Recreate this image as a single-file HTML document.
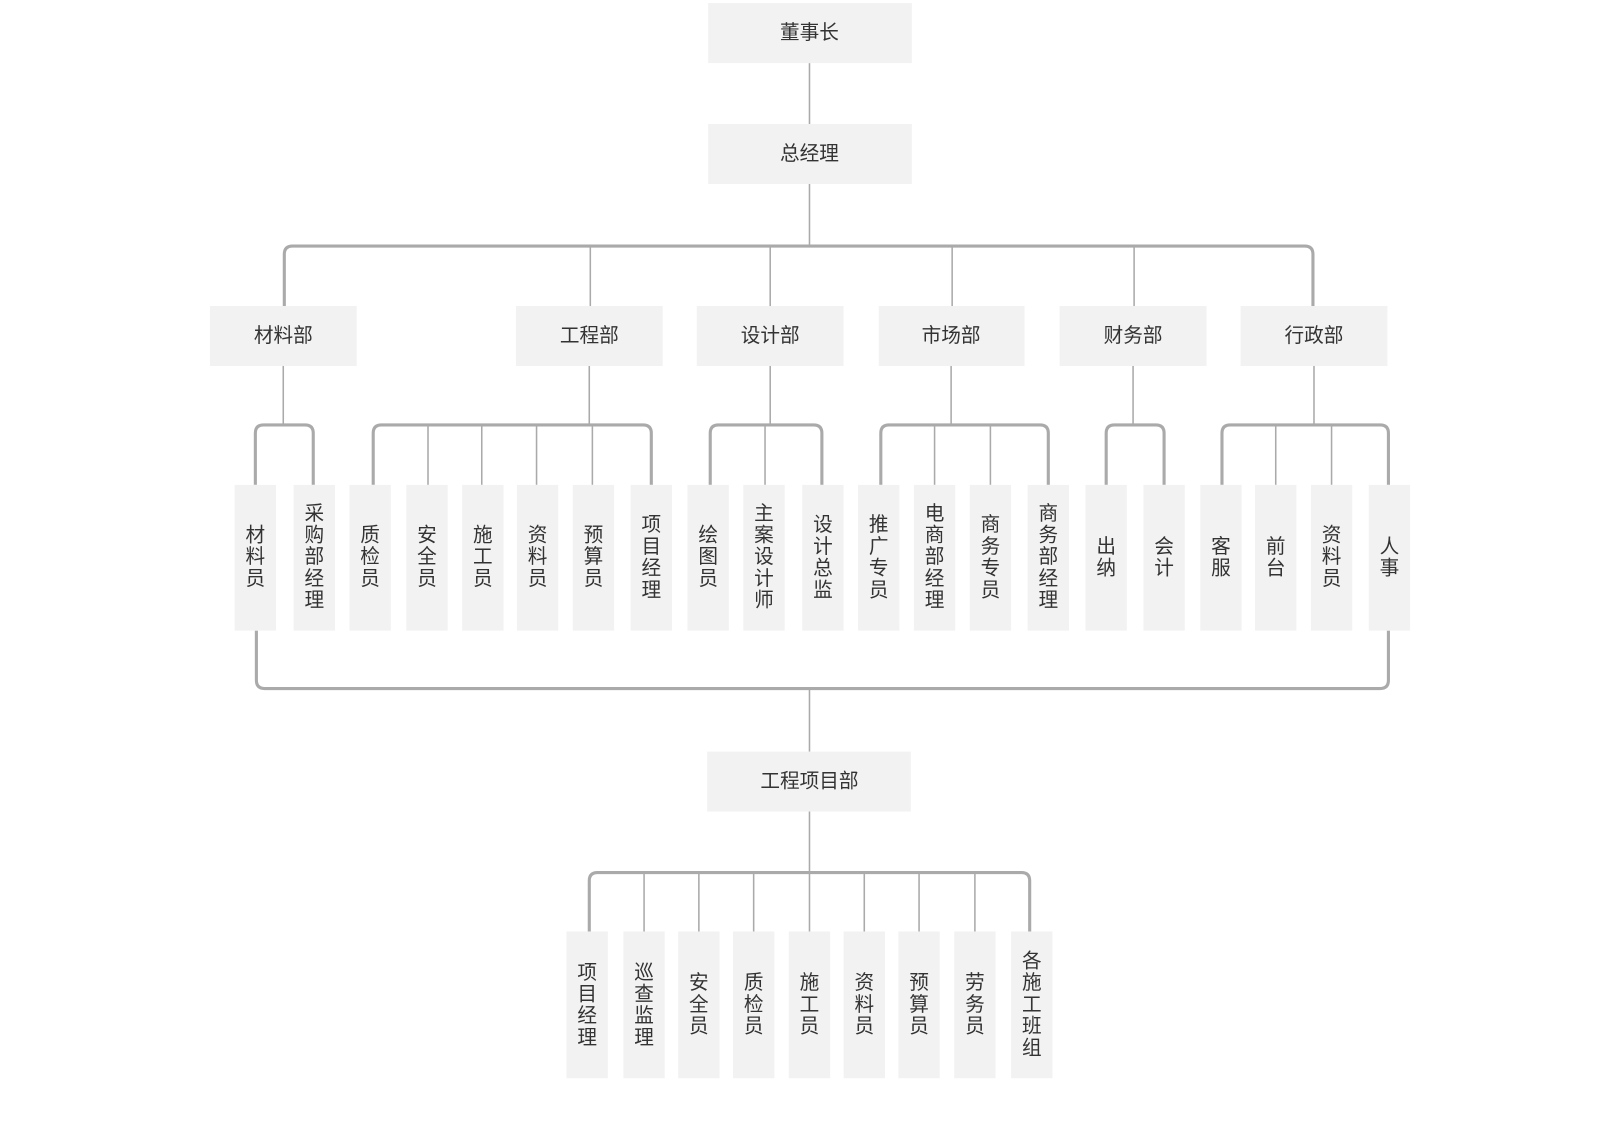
<!DOCTYPE html>
<html><head><meta charset="utf-8"><style>
html,body{margin:0;padding:0;background:#fff;width:1620px;height:1140px;overflow:hidden}
svg text{font-family:"Liberation Sans","Noto Sans CJK SC",sans-serif;fill:#333;font-size:19px;text-anchor:middle;dominant-baseline:central}
</style></head><body>
<svg width="1620" height="1140" viewBox="0 0 1567 1102.7" xmlns="http://www.w3.org/2000/svg">
<g fill="none" stroke="#aaa">
<g stroke-width="1.5">
<path d="M783 61V120M783 178V238M571 238V296M745 238V296M921 238V296M1097 238V296"/>
<path d="M274 354V411M570 354V411M745 354V411M920 354V411M1096 354V411M1271 354V411"/>
<path d="M414 411V469M466 411V469M519 411V469M573 411V469M740 411V469M904 411V469M958 411V469M1234 411V469M1288 411V469"/>
<path d="M783 666V727M783 785V844M623 844V901M676 844V901M729 844V901M783 844V901M836 844V901M889 844V901M943 844V901"/>
</g>
<g stroke-width="3">
<path d="M275 296V246Q275 238 283 238H1262Q1270 238 1270 246V296"/>
<path d="M247 469V419Q247 411 255 411H295Q303 411 303 419V469"/>
<path d="M361 469V419Q361 411 369 411H622Q630 411 630 419V469"/>
<path d="M687 469V419Q687 411 695 411H787Q795 411 795 419V469"/>
<path d="M852 469V419Q852 411 860 411H1006Q1014 411 1014 419V469"/>
<path d="M1070 469V419Q1070 411 1078 411H1118Q1126 411 1126 419V469"/>
<path d="M1182 469V419Q1182 411 1190 411H1335Q1343 411 1343 419V469"/>
<path d="M248 610V658Q248 666 256 666H1335Q1343 666 1343 658V610"/>
<path d="M570 901V852Q570 844 578 844H988Q996 844 996 852V901"/>
</g>
</g>
<g fill="#f2f2f2">
<rect x="685" y="3" width="197" height="58"/>
<rect x="685" y="120" width="197" height="58"/>
<rect x="203" y="296" width="142" height="58"/>
<rect x="499" y="296" width="142" height="58"/>
<rect x="674" y="296" width="142" height="58"/>
<rect x="850" y="296" width="141" height="58"/>
<rect x="1025" y="296" width="142" height="58"/>
<rect x="1200" y="296" width="142" height="58"/>
<rect x="684" y="727" width="197" height="58"/>
<g>
<rect x="227" y="469" width="40" height="141"/><rect x="284" y="469" width="40" height="141"/>
<rect x="338" y="469" width="40" height="141"/><rect x="393" y="469" width="40" height="141"/>
<rect x="447" y="469" width="40" height="141"/><rect x="500" y="469" width="40" height="141"/>
<rect x="554" y="469" width="40" height="141"/><rect x="610" y="469" width="40" height="141"/>
<rect x="665" y="469" width="40" height="141"/><rect x="719" y="469" width="40" height="141"/>
<rect x="776" y="469" width="40" height="141"/><rect x="830" y="469" width="40" height="141"/>
<rect x="884" y="469" width="40" height="141"/><rect x="938" y="469" width="40" height="141"/>
<rect x="994" y="469" width="40" height="141"/><rect x="1050" y="469" width="40" height="141"/>
<rect x="1106" y="469" width="40" height="141"/><rect x="1161" y="469" width="40" height="141"/>
<rect x="1214" y="469" width="40" height="141"/><rect x="1268" y="469" width="40" height="141"/>
<rect x="1324" y="469" width="40" height="141"/>
</g>
<g>
<rect x="548" y="901" width="40" height="142"/><rect x="603" y="901" width="40" height="142"/>
<rect x="656" y="901" width="40" height="142"/><rect x="709" y="901" width="40" height="142"/>
<rect x="763" y="901" width="40" height="142"/><rect x="816" y="901" width="40" height="142"/>
<rect x="869" y="901" width="40" height="142"/><rect x="923" y="901" width="40" height="142"/>
<rect x="978" y="901" width="40" height="142"/>
</g>
</g>
<text x="783" y="32">董事长</text>
<text x="783" y="149">总经理</text>
<text x="274" y="325">材料部</text>
<text x="570" y="325">工程部</text>
<text x="745" y="325">设计部</text>
<text x="920" y="325">市场部</text>
<text x="1096" y="325">财务部</text>
<text x="1271" y="325">行政部</text>
<text x="783" y="756">工程项目部</text>
<text><tspan x="247" y="518">材</tspan><tspan x="247" y="539">料</tspan><tspan x="247" y="560">员</tspan></text>
<text><tspan x="304" y="497">采</tspan><tspan x="304" y="518">购</tspan><tspan x="304" y="539">部</tspan><tspan x="304" y="560">经</tspan><tspan x="304" y="581">理</tspan></text>
<text><tspan x="358" y="518">质</tspan><tspan x="358" y="539">检</tspan><tspan x="358" y="560">员</tspan></text>
<text><tspan x="413" y="518">安</tspan><tspan x="413" y="539">全</tspan><tspan x="413" y="560">员</tspan></text>
<text><tspan x="467" y="518">施</tspan><tspan x="467" y="539">工</tspan><tspan x="467" y="560">员</tspan></text>
<text><tspan x="520" y="518">资</tspan><tspan x="520" y="539">料</tspan><tspan x="520" y="560">员</tspan></text>
<text><tspan x="574" y="518">预</tspan><tspan x="574" y="539">算</tspan><tspan x="574" y="560">员</tspan></text>
<text><tspan x="630" y="508">项</tspan><tspan x="630" y="529">目</tspan><tspan x="630" y="550">经</tspan><tspan x="630" y="571">理</tspan></text>
<text><tspan x="685" y="518">绘</tspan><tspan x="685" y="539">图</tspan><tspan x="685" y="560">员</tspan></text>
<text><tspan x="739" y="497">主</tspan><tspan x="739" y="518">案</tspan><tspan x="739" y="539">设</tspan><tspan x="739" y="560">计</tspan><tspan x="739" y="581">师</tspan></text>
<text><tspan x="796" y="508">设</tspan><tspan x="796" y="529">计</tspan><tspan x="796" y="550">总</tspan><tspan x="796" y="571">监</tspan></text>
<text><tspan x="850" y="508">推</tspan><tspan x="850" y="529">广</tspan><tspan x="850" y="550">专</tspan><tspan x="850" y="571">员</tspan></text>
<text><tspan x="904" y="497">电</tspan><tspan x="904" y="518">商</tspan><tspan x="904" y="539">部</tspan><tspan x="904" y="560">经</tspan><tspan x="904" y="581">理</tspan></text>
<text><tspan x="958" y="508">商</tspan><tspan x="958" y="529">务</tspan><tspan x="958" y="550">专</tspan><tspan x="958" y="571">员</tspan></text>
<text><tspan x="1014" y="497">商</tspan><tspan x="1014" y="518">务</tspan><tspan x="1014" y="539">部</tspan><tspan x="1014" y="560">经</tspan><tspan x="1014" y="581">理</tspan></text>
<text><tspan x="1070" y="529">出</tspan><tspan x="1070" y="550">纳</tspan></text>
<text><tspan x="1126" y="529">会</tspan><tspan x="1126" y="550">计</tspan></text>
<text><tspan x="1181" y="529">客</tspan><tspan x="1181" y="550">服</tspan></text>
<text><tspan x="1234" y="529">前</tspan><tspan x="1234" y="550">台</tspan></text>
<text><tspan x="1288" y="518">资</tspan><tspan x="1288" y="539">料</tspan><tspan x="1288" y="560">员</tspan></text>
<text><tspan x="1344" y="529">人</tspan><tspan x="1344" y="550">事</tspan></text>
<text><tspan x="568" y="941">项</tspan><tspan x="568" y="962">目</tspan><tspan x="568" y="983">经</tspan><tspan x="568" y="1004">理</tspan></text>
<text><tspan x="623" y="941">巡</tspan><tspan x="623" y="962">查</tspan><tspan x="623" y="983">监</tspan><tspan x="623" y="1004">理</tspan></text>
<text><tspan x="676" y="951">安</tspan><tspan x="676" y="972">全</tspan><tspan x="676" y="993">员</tspan></text>
<text><tspan x="729" y="951">质</tspan><tspan x="729" y="972">检</tspan><tspan x="729" y="993">员</tspan></text>
<text><tspan x="783" y="951">施</tspan><tspan x="783" y="972">工</tspan><tspan x="783" y="993">员</tspan></text>
<text><tspan x="836" y="951">资</tspan><tspan x="836" y="972">料</tspan><tspan x="836" y="993">员</tspan></text>
<text><tspan x="889" y="951">预</tspan><tspan x="889" y="972">算</tspan><tspan x="889" y="993">员</tspan></text>
<text><tspan x="943" y="951">劳</tspan><tspan x="943" y="972">务</tspan><tspan x="943" y="993">员</tspan></text>
<text><tspan x="998" y="930">各</tspan><tspan x="998" y="951">施</tspan><tspan x="998" y="972">工</tspan><tspan x="998" y="993">班</tspan><tspan x="998" y="1014">组</tspan></text>
</svg>
</body></html>
